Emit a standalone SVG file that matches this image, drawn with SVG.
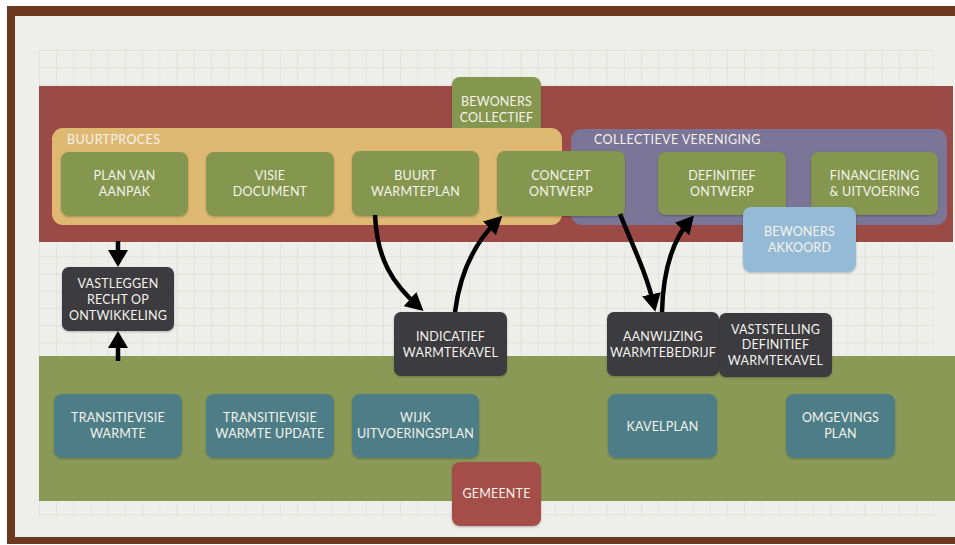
<svg xmlns="http://www.w3.org/2000/svg" width="955" height="545" viewBox="0 0 955 545">
<defs>
<pattern id="grid" x="39" y="50" width="17.2" height="17.2" patternUnits="userSpaceOnUse">
<path d="M17.2 0 L0 0 L0 17.2" fill="none" stroke="#d8d8d2" stroke-width="1"/>
</pattern>
<filter id="sh" x="-10%" y="-10%" width="120%" height="130%">
<feDropShadow dx="0" dy="1" stdDeviation="1.2" flood-color="#000" flood-opacity="0.25"/>
</filter>
<marker id="ah" viewBox="0 0 18 19" refX="12" refY="9.5" markerWidth="18" markerHeight="19" markerUnits="userSpaceOnUse" orient="auto">
<path d="M0 0 L18 9.5 L0 19 z" fill="#000"/>
</marker>
</defs>
<style>
.t{font-family:Lato,"Open Sans","DejaVu Sans",sans-serif;font-size:12.5px;fill:#f4f2ea;text-anchor:middle;letter-spacing:0.2px}
.lbl{font-family:Lato,"Open Sans","DejaVu Sans",sans-serif;font-size:12.5px;fill:#f4f2ea;letter-spacing:0.4px}
.g{fill:#85974f;filter:url(#sh)}
.d{fill:#3a3a3f;filter:url(#sh)}
.b{fill:#4e7e87;filter:url(#sh)}
.arr{fill:none;stroke:#000;stroke-width:4.5}
</style>
<!-- frame -->
<rect x="0" y="0" width="955" height="545" fill="#ffffff"/>
<rect x="7" y="6" width="948" height="538" fill="#6d3820"/>
<rect x="15" y="16" width="940" height="521" fill="#eeeeea"/>
<rect x="39" y="50" width="895" height="467" fill="url(#grid)"/>
<!-- bands -->
<rect x="39" y="86" width="914" height="156" fill="#9b4a45"/>
<rect x="39" y="356" width="916" height="145" fill="#8a9a56"/>

<g id="bewoners-collectief">
<rect x="452" y="77" width="89" height="60" rx="8" class="g"/>
<text class="t" x="496.5" y="106">BEWONERS</text>
<text class="t" x="496.5" y="122">COLLECTIEF</text>
</g>
<g id="buurtproces">
<rect x="52" y="128" width="510" height="97" rx="11" fill="#dfb972"/>
<text class="lbl" x="67" y="144">BUURTPROCES</text>
</g>
<g id="collectieve-vereniging">
<rect x="571" y="129" width="376" height="96" rx="11" fill="#7b7597"/>
<text class="lbl" x="594" y="144">COLLECTIEVE VERENIGING</text>
</g>

<g id="plan-van-aanpak">
<rect x="61" y="152" width="127" height="64" rx="8" class="g"/>
<text class="t" x="124.5" y="180">PLAN VAN</text>
<text class="t" x="124.5" y="196">AANPAK</text>
</g>
<g id="visie-document">
<rect x="206" y="152" width="128" height="64" rx="8" class="g"/>
<text class="t" x="270" y="180">VISIE</text>
<text class="t" x="270" y="196">DOCUMENT</text>
</g>
<g id="buurt-warmteplan">
<rect x="352" y="151" width="127" height="65" rx="8" class="g"/>
<text class="t" x="415.5" y="180">BUURT</text>
<text class="t" x="415.5" y="196">WARMTEPLAN</text>
</g>
<g id="concept-ontwerp">
<rect x="497" y="151" width="128" height="65" rx="8" class="g"/>
<text class="t" x="561" y="180">CONCEPT</text>
<text class="t" x="561" y="196">ONTWERP</text>
</g>
<g id="definitief-ontwerp">
<rect x="658" y="152" width="128" height="63" rx="8" class="g"/>
<text class="t" x="722" y="180">DEFINITIEF</text>
<text class="t" x="722" y="196">ONTWERP</text>
</g>
<g id="financiering">
<rect x="811" y="152" width="127" height="63" rx="8" class="g"/>
<text class="t" x="874.5" y="180">FINANCIERING</text>
<text class="t" x="874.5" y="196">&amp; UITVOERING</text>
</g>
<g id="bewoners-akkoord">
<rect x="743" y="207" width="113" height="65" rx="8" fill="#94bad6" filter="url(#sh)"/>
<text class="t" x="799.5" y="236">BEWONERS</text>
<text class="t" x="799.5" y="252">AKKOORD</text>
</g>

<g id="vastleggen">
<rect x="62" y="267" width="112" height="64" rx="7" class="d"/>
<text class="t" x="118" y="288">VASTLEGGEN</text>
<text class="t" x="118" y="304">RECHT OP</text>
<text class="t" x="118" y="320">ONTWIKKELING</text>
</g>
<g id="indicatief-warmtekavel">
<rect x="394" y="312" width="113" height="64" rx="7" class="d"/>
<text class="t" x="450.5" y="341">INDICATIEF</text>
<text class="t" x="450.5" y="357">WARMTEKAVEL</text>
</g>
<g id="aanwijzing-warmtebedrijf">
<rect x="607" y="312" width="112" height="64" rx="7" class="d"/>
<text class="t" x="663" y="341">AANWIJZING</text>
<text class="t" x="663" y="357">WARMTEBEDRIJF</text>
</g>
<g id="vaststelling">
<rect x="719" y="313" width="113" height="64" rx="7" class="d"/>
<text class="t" x="775.5" y="334">VASTSTELLING</text>
<text class="t" x="775.5" y="349">DEFINITIEF</text>
<text class="t" x="775.5" y="365">WARMTEKAVEL</text>
</g>

<g id="transitievisie-warmte">
<rect x="54" y="394" width="128" height="64" rx="8" class="b"/>
<text class="t" x="118" y="422">TRANSITIEVISIE</text>
<text class="t" x="118" y="438">WARMTE</text>
</g>
<g id="transitievisie-update">
<rect x="206" y="394" width="128" height="64" rx="8" class="b"/>
<text class="t" x="270" y="422">TRANSITIEVISIE</text>
<text class="t" x="270" y="438">WARMTE UPDATE</text>
</g>
<g id="wijk-uitvoeringsplan">
<rect x="352" y="394" width="127" height="64" rx="8" class="b"/>
<text class="t" x="415.5" y="422">WIJK</text>
<text class="t" x="415.5" y="438">UITVOERINGSPLAN</text>
</g>
<g id="kavelplan">
<rect x="608" y="394" width="109" height="64" rx="8" class="b"/>
<text class="t" x="662.5" y="431">KAVELPLAN</text>
</g>
<g id="omgevingsplan">
<rect x="786" y="394" width="109" height="64" rx="8" class="b"/>
<text class="t" x="840.5" y="422">OMGEVINGS</text>
<text class="t" x="840.5" y="438">PLAN</text>
</g>
<g id="gemeente">
<rect x="452" y="462" width="89" height="64" rx="8" fill="#a44d48" filter="url(#sh)"/>
<text class="t" x="496.5" y="498">GEMEENTE</text>
</g>

<g id="connectors">
<line x1="118" y1="241" x2="118" y2="252" stroke="#000" stroke-width="4.5"/>
<polygon points="108,250 128,250 118,267" fill="#000"/>
<line x1="118" y1="361" x2="118" y2="346" stroke="#000" stroke-width="4.5"/>
<polygon points="108,348 128,348 118,331" fill="#000"/>
<path class="arr" d="M375 215 C377 260 393 284 419 307" marker-end="url(#ah)"/>
<path class="arr" d="M455 312 C460 272 474 243 498 220" marker-end="url(#ah)"/>
<path class="arr" d="M620 214 C631 242 647 274 654 306" marker-end="url(#ah)"/>
<path class="arr" d="M662 312 C663 272 671 242 690 220" marker-end="url(#ah)"/>
</g>
</svg>
